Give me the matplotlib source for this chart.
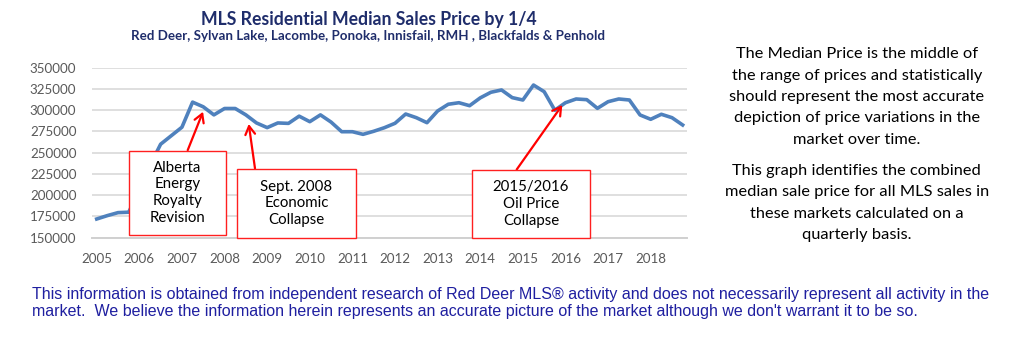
import matplotlib
matplotlib.use("Agg")
import matplotlib.pyplot as plt
from matplotlib.patches import Rectangle

# quarterly median price, 2005 Q1 .. 2018 Q4
years = list(range(2005, 2019))
median_price = [
    172000, 176000, 179500, 180000,   # 2005
    205000, 235000, 260000, 270000,   # 2006
    280000, 309500, 304000, 294500,   # 2007
    302000, 302000, 294500, 285000,   # 2008
    279500, 285000, 284500, 293000,   # 2009
    286500, 294500, 286000, 274700,   # 2010
    274700, 271600, 275200, 279400,   # 2011
    284600, 295500, 291200, 285300,   # 2012
    299100, 307000, 308800, 305300,   # 2013
    314500, 321100, 323800, 314800,   # 2014
    312000, 329600, 321800, 300000,   # 2015
    308800, 313200, 312400, 302200,   # 2016
    310000, 313200, 312000, 294400,   # 2017
    289300, 295200, 291200, 282600,   # 2018
]
y_ticks = list(range(150000, 350001, 25000))

title = "MLS Residential Median Sales Price by 1/4"
subtitle = "Red Deer, Sylvan Lake, Lacombe, Ponoka, Innisfail, RMH , Blackfalds & Penhold"

# (label, quarter index the arrow points at, value there)
events = [
    ("Alberta\nEnergy\nRoyalty\nRevision", 9.98, 298200),
    ("Sept. 2008\nEconomic\nCollapse", 14.27, 283800),
    ("2015/2016\nOil Price\nCollapse", 43.7, 306100),
]

side_note_1 = ("The Median Price is the middle of\nthe range of prices and statistically\n"
               "should represent the most accurate\ndepiction of price variations in the\n"
               "market over time.")
side_note_2 = ("This graph identifies the combined\nmedian sale price for all MLS sales in\n"
               "these markets calculated on a\nquarterly basis.")
footer = ("This information is obtained from independent research of Red Deer MLS\u00ae activity "
          "and does not necessarily represent all activity in the\nmarket.  We believe the "
          "information herein represents an accurate picture of the market although we don't "
          "warrant it to be so.")

W, H = 1030, 357
fig = plt.figure(figsize=(W / 100, H / 100), dpi=100)

def px(x0, y0, x1, y1):
    # pixel box (top-left origin) -> figure fraction rect
    return [x0 / W, 1 - y1 / H, (x1 - x0) / W, (y1 - y0) / H]

ax = fig.add_axes(px(91.7, 67.7, 686.7, 237.7))

quarters = list(range(len(median_price)))
ax.plot(quarters, median_price, color="#4F81BD", lw=2.6, solid_joinstyle="round", zorder=3)

ax.set_xlim(-0.47, len(median_price) - 1 + 0.38)
ax.set_ylim(150000, 350000)
ax.set_yticks(y_ticks)
ax.set_yticklabels([str(v) for v in y_ticks])
ax.set_xticks(quarters[::4])
ax.set_xticklabels([str(y) for y in years])
ax.grid(axis="y", color="#D9D9D9", lw=1.2)
ax.set_axisbelow(True)
for s in ["top", "right", "left"]:
    ax.spines[s].set_visible(False)
ax.spines["bottom"].set_color("#D0D0D0")
ax.spines["bottom"].set_linewidth(1.4)
ax.tick_params(length=0, labelsize=9.6, labelcolor="#595959", pad=11)
for lab in ax.get_xticklabels() + ax.get_yticklabels():
    lab.set_family("Lato")

# event boxes + arrows
boxes = [(129, 150.7, 226, 235), (237.3, 169, 355.7, 237.7), (472, 170, 590, 238.3)]
tails = [(187.7, 150.2), (255, 168.5), (516.7, 169.5)]
for (label, qx, qy), (x0, y0, x1, y1), (tx, ty) in zip(events, boxes, tails):
    fig.add_artist(Rectangle((x0 / W, 1 - y1 / H), (x1 - x0) / W, (y1 - y0) / H,
                             transform=fig.transFigure, facecolor="white",
                             edgecolor="#FF2020", lw=1.0, zorder=5))
    fig.text((x0 + x1) / 2 / W, 1 - (y0 + y1) / 2 / H, label, ha="center", va="center",
             fontsize=10.8, family="Lato", linespacing=1.25, zorder=6)
    ax.annotate("", xy=(qx, qy), xytext=(tx, H - ty), textcoords="figure pixels",
                arrowprops=dict(arrowstyle="->,head_length=0.6,head_width=0.35",
                                color="red", lw=1.6, shrinkA=0, shrinkB=0),
                annotation_clip=False, zorder=4)

fig.text(369 / W, 1 - 19.3 / H, title, ha="center", va="center", fontsize=12.7,
         fontweight="bold", color="#1F2D6B", family="Lato")
fig.text(368 / W, 1 - 35.5 / H, subtitle, ha="center", va="center", fontsize=9.6,
         fontweight="bold", color="#1F2D6B", family="Lato")

fig.text(856.7 / W, 1 - 47.5 / H, side_note_1, ha="center", va="top", fontsize=11.8,
         family="Lato", linespacing=1.66)
fig.text(856.7 / W, 1 - 164 / H, side_note_2, ha="center", va="top", fontsize=11.8,
         family="Lato", linespacing=1.66)

fig.text(32 / W, 1 - 287 / H, footer, ha="left", va="top", fontsize=11.5,
         family="Liberation Sans", color="#1F1FA0", linespacing=1.15)

fig.savefig("out.png", dpi=100)
